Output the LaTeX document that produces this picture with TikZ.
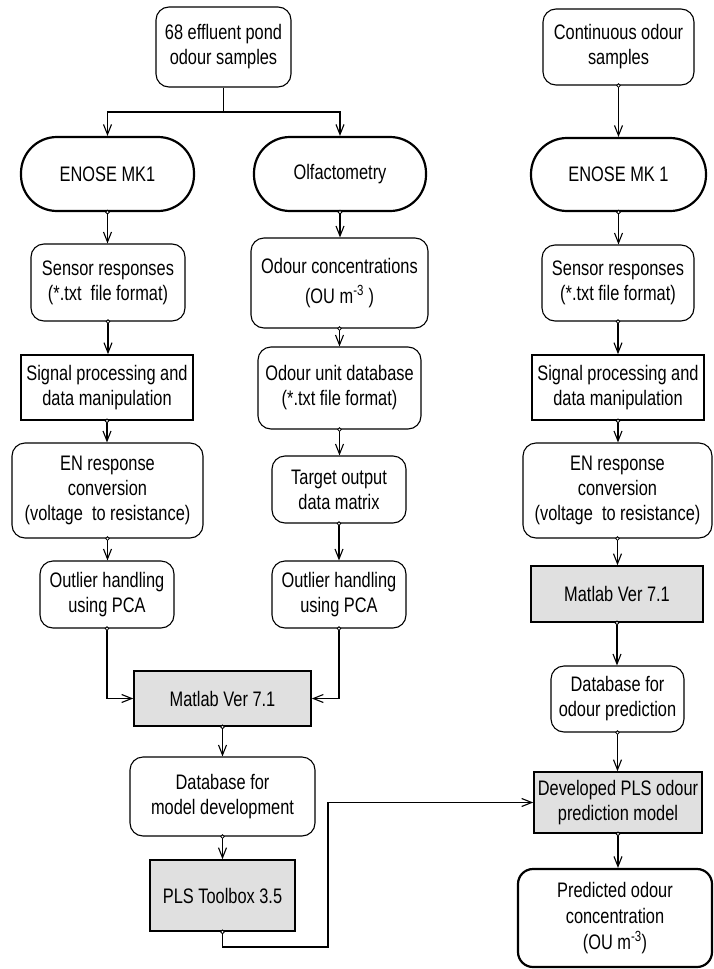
\documentclass[tikz,border=0pt]{standalone}
\usepackage{fontspec}
\setmainfont{Liberation Sans}[FakeStretch=0.78]
\usetikzlibrary{arrows.meta}
\begin{document}
\begin{tikzpicture}[x=1pt,y=-1pt,
  wh/.style 2 args={minimum width=#1pt, minimum height=#2pt},
  base/.style={draw, align=center, inner sep=0pt, font=\fontsize{21pt}{25pt}\selectfont, line width=1.1pt},
  rbox/.style={base, rounded corners=13pt},
  term/.style={base, rounded corners=36pt, line width=2.2pt},
  sbox/.style={base, line width=1.7pt},
  gbox/.style={base, line width=1.7pt, fill=black!12},
  pbox/.style={base, rounded corners=15pt, line width=2.2pt},
  tipend/.style={-{Straight Barb[length=10pt,width=8pt,line width=1.1pt]}},
  farr/.style={line width=1.1pt, tipend},
  conn/.style={line width=1.1pt, {Circle[fill=white,length=4.5pt,width=4.5pt,line width=0.8pt]}-{Straight Barb[length=10pt,width=8pt,line width=1.1pt]}, shorten <=-2.25pt}
]
\useasboundingbox (0,0) rectangle (713,969);

% left and middle
\node[rbox, wh={135}{80}] (s68) at (223.5,47) {68 effluent pond\\odour samples};
\node[term, wh={173}{74}] (enose1) at (107.5,174) {ENOSE MK1};
\node[term, wh={172}{74}] (olf) at (340,174) {Olfactometry};
\node[rbox, wh={154}{77}] (sens1) at (108,282.5) {Sensor responses\\(*.txt\ \ file format)};
\node[sbox, wh={172}{65}] (sig1) at (107,387.5) {Signal processing and\\data manipulation};
\node[rbox, wh={191}{95}] (en1) at (107.5,490.5) {EN response\\conversion\\(voltage\ \ to resistance)};
\node[rbox, wh={134}{67}] (out1) at (107,594.5) {Outlier handling\\using PCA};
\node[rbox, wh={177}{90}, font=\fontsize{21pt}{30pt}\selectfont] (conc) at (339.5,283) {Odour concentrations\\(OU m\textsuperscript{-3} )};
\node[rbox, wh={163}{82}] (oudb) at (339.5,388) {Odour unit database\\(*.txt file format)};
\node[rbox, wh={134}{67}] (target) at (339,489.5) {Target output\\data matrix};
\node[rbox, wh={134}{67}] (out2) at (339,594.5) {Outlier handling\\using PCA};
\node[gbox, wh={177}{55}] (mat1) at (222.5,698.5) {Matlab Ver 7.1};
\node[rbox, wh={185}{79}] (db1) at (222.5,796.5) {Database for\\model development};
\node[gbox, wh={145}{71}] (pls) at (222.5,895.5) {PLS Toolbox 3.5};

% right
\node[rbox, wh={151}{76}] (cont) at (618.5,47) {Continuous odour\\samples};
\node[term, wh={175}{73}] (enose2) at (618.5,174.5) {ENOSE MK 1};
\node[rbox, wh={152}{76}] (sens2) at (618,283) {Sensor responses\\(*.txt file format)};
\node[sbox, wh={172}{65}] (sig2) at (618,387.5) {Signal processing and\\data manipulation};
\node[rbox, wh={189}{95}] (en2) at (617.5,490.5) {EN response\\conversion\\(voltage\ \ to resistance)};
\node[gbox, wh={172}{56}] (mat2) at (617,594) {Matlab Ver 7.1};
\node[rbox, wh={133}{66}] (db2) at (617.5,699) {Database for\\odour prediction};
\node[gbox, wh={168}{61}] (dev) at (618,802.5) {Developed PLS odour\\prediction model};
\node[pbox, wh={194}{98}, font=\fontsize{21pt}{26pt}\selectfont] (pred) at (615,918) {Predicted odour\\concentration\\(OU m\textsuperscript{-3})};

% connectors
\coordinate (split) at (223.5,112);
\draw[line width=1.1pt] (s68.south) -- (split);
\draw[farr] (split) -| (enose1.north);
\draw[farr] (split) -| (olf.north);

\draw[conn] (enose1.south) -- (sens1.north -| enose1.south);
\draw[conn] (sens1.south) -- (sig1.north -| sens1.south);
\draw[conn] (sig1.south) -- (en1.north -| sig1.south);
\draw[conn] (en1.south) -- (out1.north -| en1.south);

\draw[conn] (olf.south) -- (conc.north -| olf.south);
\draw[conn] (conc.south) -- (oudb.north -| conc.south);
\draw[conn] (oudb.south) -- (target.north -| oudb.south);
\draw[conn] (target.south) -- (out2.north);

\draw[conn] (out1.south) |- (mat1.west);
\draw[conn] (out2.south) |- (mat1.east);
\draw[conn] (mat1.south) -- (db1.north);
\draw[conn] (db1.south) -- (pls.north);

\coordinate (bend) at (328,947);
\draw[conn] (pls.south) |- (bend) |- (dev.west);

\draw[conn] (cont.south) -- (enose2.north -| cont.south);
\draw[conn] (enose2.south) -- (sens2.north -| enose2.south);
\draw[conn] (sens2.south) -- (sig2.north -| sens2.south);
\draw[conn] (sig2.south) -- (en2.north -| sig2.south);
\draw[conn] (en2.south) -- (mat2.north -| en2.south);
\draw[conn] (mat2.south) -- (db2.north -| mat2.south);
\draw[conn] (db2.south) -- (dev.north -| db2.south);
\draw[conn] (dev.south) -- (pred.north -| dev.south);
\end{tikzpicture}
\end{document}
